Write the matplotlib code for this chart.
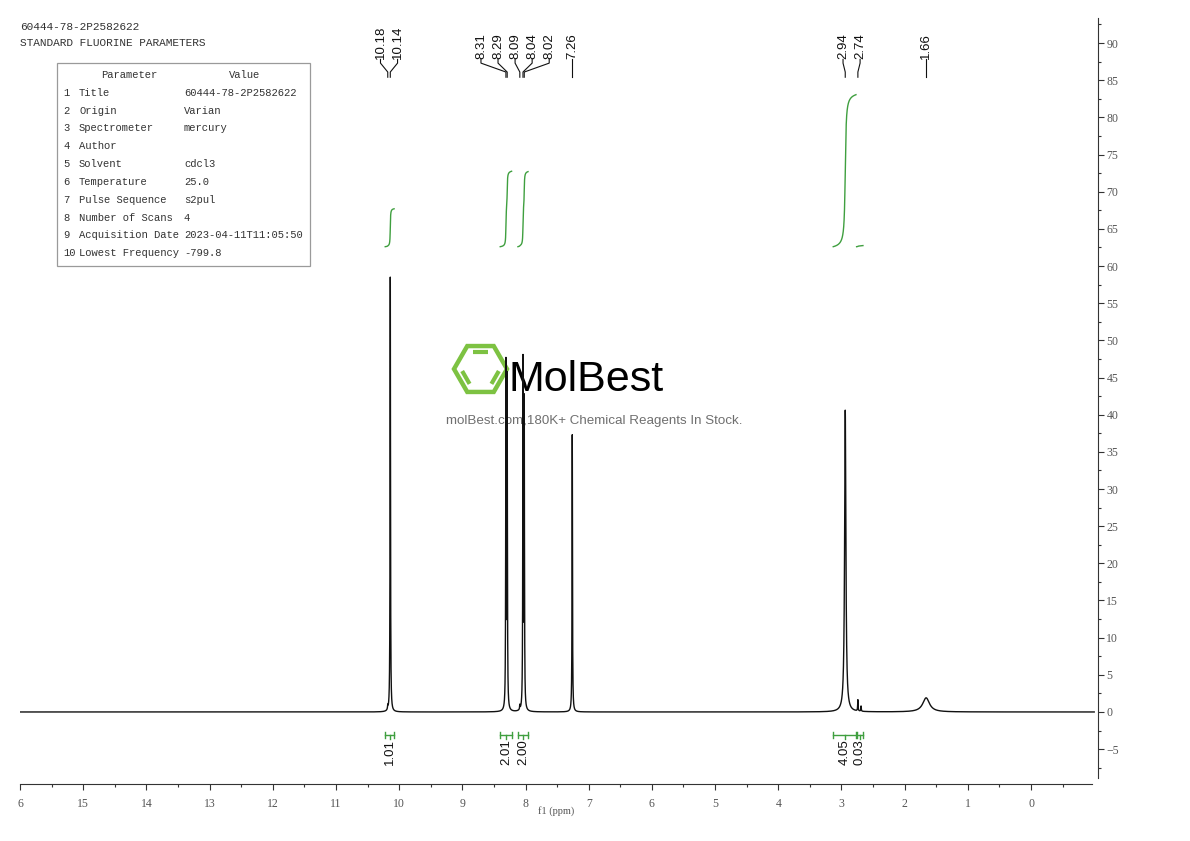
import numpy as np
import matplotlib
matplotlib.use("Agg")
import matplotlib.pyplot as plt
from matplotlib.patches import Rectangle, Polygon

W, H = 1190, 841
INK = "#111111"
GREEN = "#3f9f3f"
LOGO_GREEN = "#7dc242"
GREY = "#555555"
SERIF = "Liberation Serif"
MONO = "Liberation Mono"
SANS = "Liberation Sans"

# spectrum peaks: shift (ppm), height, half width (ppm)
PEAK_SHIFT = [10.18, 10.14, 8.31, 8.29, 8.09, 8.04, 8.02, 7.26, 2.94, 2.74, 2.69, 1.66]
PEAK_HEIGHT = [0.5, 58.5, 46.0, 44.0, 0.6, 46.5, 41.0, 37.3, 40.6, 1.5, 0.7, 1.9]
PEAK_WIDTH = [0.004, 0.004, 0.004, 0.004, 0.004, 0.004, 0.004, 0.004, 0.012, 0.004, 0.004, 0.065]

# labelled peaks (top), grouped as in the original
LABEL_GROUPS = [[10.18, 10.14], [8.31, 8.29, 8.09, 8.04, 8.02], [7.26], [2.94, 2.74], [1.66]]

# integrals: ppm range and value
INT_START = [10.22, 8.40, 8.12, 3.13, 2.76]
INT_END = [10.08, 8.22, 7.96, 2.77, 2.66]
INT_VALUE = [1.01, 2.01, 2.00, 4.05, 0.03]

PARAM_NAMES = ["Title", "Origin", "Spectrometer", "Author", "Solvent", "Temperature",
               "Pulse Sequence", "Number of Scans", "Acquisition Date", "Lowest Frequency"]
PARAM_VALUES = ["60444-78-2P2582622", "Varian", "mercury", "", "cdcl3", "25.0",
                "s2pul", "4", "2023-04-11T11:05:50", "-799.8"]


def fx(x):
    return x / W


def fy(y):
    return 1 - y / H


fig = plt.figure(figsize=(W / 100, H / 100), dpi=100)

# watermark layer in pixel units
wm = fig.add_axes([0, 0, 1, 1])
wm.set_xlim(0, W)
wm.set_ylim(H, 0)
wm.axis("off")
cx, cy, r = 480.5, 369, 26.5
ang = np.deg2rad(np.arange(0, 360, 60))
hexpts = np.column_stack([cx + r * np.cos(ang), cy - r * np.sin(ang)])
wm.add_patch(Polygon(hexpts, closed=True, fill=False, ec=LOGO_GREEN, lw=3.2, joinstyle="miter"))
ri = 19.5
inner = np.column_stack([cx + ri * np.cos(ang), cy - ri * np.sin(ang)])
for i, j in [(1, 2), (3, 4), (5, 0)]:
    p, q = inner[i], inner[j]
    a = p + 0.12 * (q - p)
    b = p + 0.88 * (q - p)
    wm.plot([a[0], b[0]], [a[1], b[1]], color=LOGO_GREEN, lw=3.0, solid_capstyle="butt")
wm.text(509, 391, "MolBest", fontsize=31, color="black", va="baseline", ha="left", family=SANS)
wm.text(594, 421, "molBest.com,180K+ Chemical Reagents In Stock.", fontsize=9.6,
        color="#6f6f6f", ha="center", va="center", family=SANS)

ax = fig.add_axes([fx(20), fy(784), fx(1098 - 20), (784 - 18) / H])
ax.patch.set_visible(False)
ax.set_xlim(16, -1.06)
ax.set_ylim(-9.69, 93.37)

ppm = np.linspace(16, -1, 34001)
spec = np.zeros_like(ppm)
for s, h, w in zip(PEAK_SHIFT, PEAK_HEIGHT, PEAK_WIDTH):
    spec += h * w ** 2 / ((ppm - s) ** 2 + w ** 2)
ax.plot(ppm, spec, color=INK, lw=1.0)

# integral curves and brackets
scale, base = 5.05, 62.6
yb = -3.1
for a, b, v in zip(INT_START, INT_END, INT_VALUE):
    m = (ppm <= a) & (ppm >= b)
    cum = np.cumsum(spec[m])
    ax.plot(ppm[m], base + cum / cum[-1] * v * scale, color=GREEN, lw=1.0)
    ax.plot([a, b], [yb, yb], color=GREEN, lw=1.0)
    ax.plot([a, a], [yb - 0.45, yb + 0.45], color=GREEN, lw=1.0)
    ax.plot([b, b], [yb - 0.45, yb + 0.45], color=GREEN, lw=1.0)
    mid = (a + b) / 2
    ax.plot([mid, mid], [yb, yb - 0.6], color=GREEN, lw=1.0)
    ax.text(mid, yb - 0.6, f"{v:.2f}", rotation=90, ha="center", va="top",
            fontsize=9.5, color=INK, family=SANS)

# peak labels at the top
spacing = 0.27
for group in LABEL_GROUPS:
    centre = (max(group) + min(group)) / 2
    n = len(group)
    for i, s in enumerate(group):
        lx = centre + ((n - 1) / 2 - i) * spacing
        ax.text(lx, 87.9, f"{s:.2f}", rotation=90, ha="center", va="bottom",
                fontsize=9.5, color=INK, family=SANS, clip_on=False)
        ax.plot([lx, lx, s, s], [87.8, 87.3, 86.1, 85.4], color=INK, lw=0.8, clip_on=False)

for side in ["top", "left"]:
    ax.spines[side].set_visible(False)
ax.spines["bottom"].set_bounds(16, -0.97)
ax.spines["right"].set_bounds(-8.9, 93.37)
ax.spines["bottom"].set_color("#333333")
ax.spines["right"].set_color("#333333")

ax.yaxis.tick_right()
ax.set_xticks(range(0, 17))
ax.set_xticklabels([str(v) if v < 16 else "6" for v in range(0, 17)])
ax.set_xticks(np.arange(-0.5, 16, 1.0), minor=True)
ax.set_yticks(range(-5, 95, 5))
ax.set_yticks(np.arange(-7.5, 93, 5), minor=True)
ax.tick_params(axis="both", which="major", direction="out", length=4, width=0.8,
               color="#333333", labelcolor=GREY, labelsize=8.5)
ax.tick_params(axis="both", which="minor", direction="out", length=2.5, width=0.8,
               color="#333333")
ax.tick_params(axis="x", pad=6)
ax.tick_params(axis="y", pad=2)
for lab in ax.get_xticklabels() + ax.get_yticklabels():
    lab.set_family(SERIF)
fig.text(fx(556), fy(811), "f1 (ppm)", ha="center", va="center", fontsize=7.5,
         color=GREY, family=SERIF)

# header and parameter table
TXT = "#333333"
fig.text(fx(20), fy(27.5), "60444-78-2P2582622", fontsize=8.0, family=MONO, color=TXT, va="center")
fig.text(fx(20), fy(42.5), "STANDARD FLUORINE PARAMETERS", fontsize=8.0, family=MONO, color=TXT, va="center")
fig.add_artist(Rectangle((fx(57), fy(266)), fx(253), 203 / H, transform=fig.transFigure,
                         fill=False, ec="#9a9a9a", lw=0.9))
fig.text(fx(129.5), fy(75), "Parameter", ha="center", va="center", fontsize=7.6, family=MONO, color=TXT)
fig.text(fx(244.5), fy(75), "Value", ha="center", va="center", fontsize=7.6, family=MONO, color=TXT)
for i, (name, value) in enumerate(zip(PARAM_NAMES, PARAM_VALUES)):
    y = 92.7 + i * 17.85
    fig.text(fx(63), fy(y), str(i + 1), va="center", fontsize=7.6, family=MONO, color=TXT)
    fig.text(fx(79), fy(y), name, va="center", fontsize=7.6, family=MONO, color=TXT)
    fig.text(fx(184), fy(y), value, va="center", fontsize=7.6, family=MONO, color=TXT)

fig.savefig("out.png", dpi=100)
